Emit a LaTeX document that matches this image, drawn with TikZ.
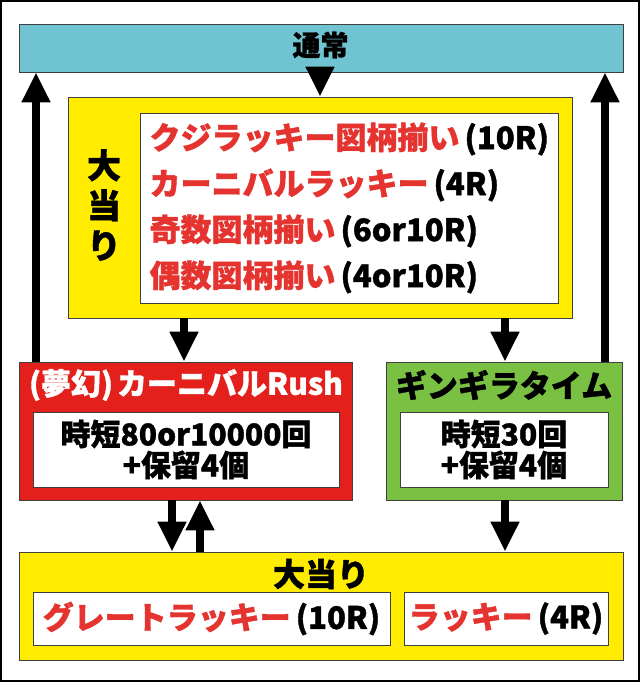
\documentclass[tikz,border=0pt]{standalone}
\usepackage{fontspec}
\setmainfont{Noto Sans CJK JP}[BoldFont=* Black, BoldFeatures={FakeBold=1.2}]
\usetikzlibrary{arrows.meta}
\definecolor{tsujo}{HTML}{70C3D0}
\definecolor{oatari}{HTML}{FFEC00}
\definecolor{rushred}{HTML}{E3201B}
\definecolor{ginggreen}{HTML}{7AC143}
\definecolor{luckred}{HTML}{E5332F}
\definecolor{edge}{HTML}{404040}
\newcommand{\rnd}[1]{\hspace{5pt}(#1)}

\begin{document}
\begin{tikzpicture}[
    x=1pt, y=-1pt,
    box/.style={draw=edge, line width=0.8pt, inner sep=0pt},
    inbox/.style={box, fill=white},
    big/.style={font=\bfseries\fontsize{31}{46}\selectfont},
    info/.style={align=center, font=\bfseries\fontsize{30}{31}\selectfont},
    arr/.style={line width=8pt, -{Triangle[width=27pt,length=30pt]}},
]

% frame
\useasboundingbox (0,0) rectangle (640,682);
\draw[line width=1.6pt] (0.8,0.8) rectangle (639.2,681.2);

% normal state
\node[box, fill=tsujo, minimum width=604pt, minimum height=48pt] (normal) at (321,48) {};
\node[font=\bfseries\fontsize{28}{28}\selectfont] (normaltxt) at (320.5,45) {通常};

% first big hit
\node[box, fill=oatari, minimum width=504pt, minimum height=221pt] (hit) at (320,207.5) {};
\node[inbox, minimum width=418pt, minimum height=190pt] (hitlist) at (349,208) {};
\node[align=center, font=\bfseries\fontsize{34}{40}\selectfont] (hitlabel) at (104,205) {大\\当\\り};
\node[big, align=left, anchor=west] (hittxt) at (146,208) {%
  {\color{luckred}クジラッキー図柄揃い}\rnd{10R}\\
  {\color{luckred}カーニバルラッキー}\rnd{4R}\\
  {\color{luckred}奇数図柄揃い}\rnd{6or10R}\\
  {\color{luckred}偶数図柄揃い}\rnd{4or10R}};

% rush and jitan
\node[box, fill=rushred, minimum width=333pt, minimum height=138pt] (rush) at (185.5,431) {};
\node[big, text=white, font=\bfseries\fontsize{30}{30}\selectfont] (rushtitle) at (186,385) {(夢幻)\hspace{4pt}カーニバルRush};
\node[inbox, minimum width=306pt, minimum height=75pt] (rushinfo) at (186,449.5) {};
\node[info] (rushtxt) at (rushinfo) {時短80or10000回\\+保留4個};

\node[box, fill=ginggreen, minimum width=236pt, minimum height=138pt] (ging) at (504,431) {};
\node[big] (gingtitle) at (504,385) {ギンギラタイム};
\node[inbox, minimum width=208pt, minimum height=75pt] (ginginfo) at (504,449.5) {};
\node[info] (gingtxt) at (ginginfo) {時短30回\\+保留4個};

% second big hit
\node[box, fill=oatari, minimum width=604pt, minimum height=108pt] (hitb) at (321,606) {};
\node[big, font=\bfseries\fontsize{32}{32}\selectfont] (hitbtitle) at (321,574) {大当り};
\node[inbox, minimum width=357pt, minimum height=53pt] (great) at (211.5,618.5) {};
\node[big] (greattxt) at (great) {{\color{luckred}グレートラッキー}\rnd{10R}};
\node[inbox, minimum width=204pt, minimum height=53pt] (lucky) at (506,618.5) {};
\node[big] (luckytxt) at (lucky) {{\color{luckred}ラッキー}\rnd{4R}};

% arrows
\draw[arr] (normal.south -| hit.north) -- (hit.north);
\draw[arr] (rush.north -| 36,0) -- (normal.south -| 36,0);
\draw[arr] (ging.north -| 605,0) -- (normal.south -| 605,0);
\draw[arr] (hit.south -| 184,0) -- (rush.north -| 184,0);
\draw[arr] (hit.south -| 505,0) -- (ging.north -| 505,0);
\draw[arr] (rush.south -| 172,0) -- (hitb.north -| 172,0);
\draw[arr] (hitb.north -| 200,0) -- (rush.south -| 200,0);
\draw[arr] (ging.south -| 505,0) -- (hitb.north -| 505,0);

\end{tikzpicture}
\end{document}
